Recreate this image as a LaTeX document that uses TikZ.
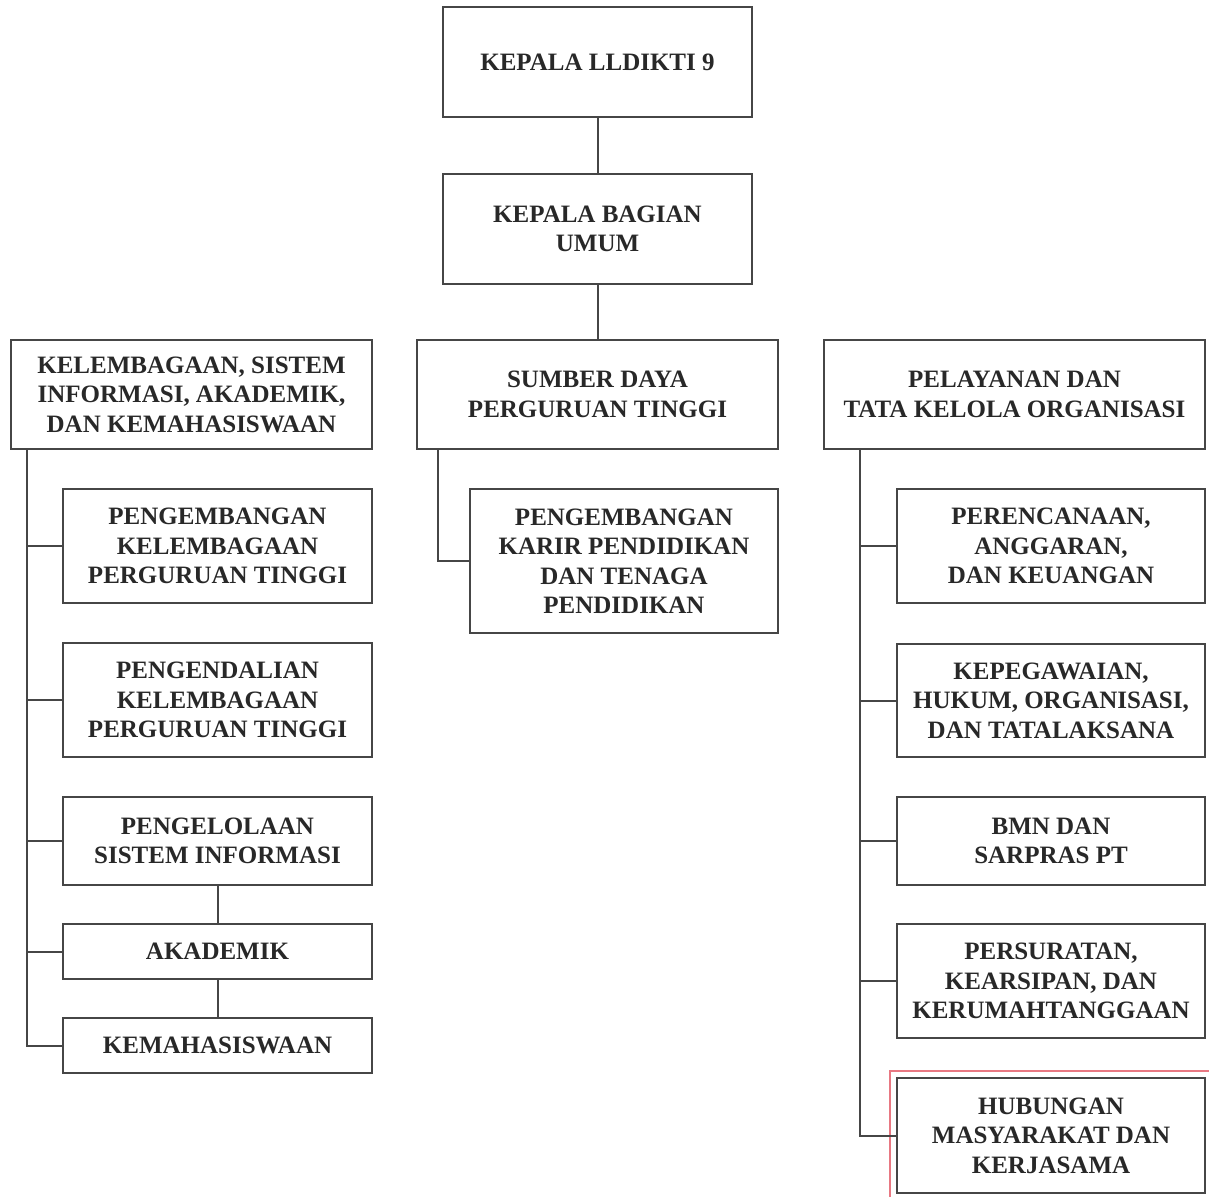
\documentclass[tikz,border=0pt]{standalone}
\usepackage{fontspec}
\setmainfont{Liberation Serif}
\definecolor{boxline}{RGB}{70,70,70}
\definecolor{txt}{RGB}{40,40,40}
\definecolor{selred}{RGB}{232,120,130}
\begin{document}
\begin{tikzpicture}[x=1pt,y=-1pt,
  box/.style={draw=boxline,line width=2pt,fill=white,inner sep=0pt,align=center,
    text=txt,font=\fontsize{25}{29.5}\selectfont\bfseries},
  conn/.style={draw=boxline,line width=2pt}]
\useasboundingbox[fill=white] (0,0) rectangle (1209,1196);
% red selection frame
\draw[selred,line width=1.5pt] (890,1071) rectangle (1220,1210);
% top
\node[box,minimum width=309pt,minimum height=110pt] (top) at (597.5,62) {KEPALA LLDIKTI 9};
\node[box,minimum width=309pt,minimum height=110pt] (kbu) at (597.5,229) {KEPALA BAGIAN\\UMUM};
% level 2
\node[box,minimum width=361pt,minimum height=109pt] (L) at (191.5,394.5) {KELEMBAGAAN, SISTEM\\INFORMASI, AKADEMIK,\\DAN KEMAHASISWAAN};
\node[box,minimum width=361pt,minimum height=109pt] (M) at (597.5,394.5) {SUMBER DAYA\\PERGURUAN TINGGI};
\node[box,minimum width=381pt,minimum height=109pt] (R) at (1014.5,394.5) {PELAYANAN DAN\\TATA KELOLA ORGANISASI};
% left children
\node[box,minimum width=309pt,minimum height=114pt] (L1) at (217.5,546) {PENGEMBANGAN\\KELEMBAGAAN\\PERGURUAN TINGGI};
\node[box,minimum width=309pt,minimum height=114pt] (L2) at (217.5,700) {PENGENDALIAN\\KELEMBAGAAN\\PERGURUAN TINGGI};
\node[box,minimum width=309pt,minimum height=88pt] (L3) at (217.5,841) {PENGELOLAAN\\SISTEM INFORMASI};
\node[box,minimum width=309pt,minimum height=55pt] (L4) at (217.5,951.5) {AKADEMIK};
\node[box,minimum width=309pt,minimum height=55pt] (L5) at (217.5,1045.5) {KEMAHASISWAAN};
% middle child
\node[box,minimum width=308pt,minimum height=144pt] (M1) at (624,561) {PENGEMBANGAN\\KARIR PENDIDIKAN\\DAN TENAGA\\PENDIDIKAN};
% right children
\node[box,minimum width=308pt,minimum height=114pt] (R1) at (1051,546) {PERENCANAAN,\\ANGGARAN,\\DAN KEUANGAN};
\node[box,minimum width=308pt,minimum height=113pt] (R2) at (1051,700.5) {KEPEGAWAIAN,\\HUKUM, ORGANISASI,\\DAN TATALAKSANA};
\node[box,minimum width=308pt,minimum height=88pt] (R3) at (1051,841) {BMN DAN\\SARPRAS PT};
\node[box,minimum width=308pt,minimum height=114pt] (R4) at (1051,981) {PERSURATAN,\\KEARSIPAN, DAN\\KERUMAHTANGGAAN};
\node[box,minimum width=308pt,minimum height=115pt] (R5) at (1051,1135.5) {HUBUNGAN\\MASYARAKAT DAN\\KERJASAMA};
% trunk coordinates
\coordinate (lt) at (27,449);
\coordinate (mt) at (438,449);
\coordinate (rt) at (860,449);
% connectors
\draw[conn] (top.south) -- (kbu.north);
\draw[conn] (kbu.south) -- (M.north);
\draw[conn] (lt) |- (L5.west);
\draw[conn] (lt |- L1.west) -- (L1.west);
\draw[conn] (lt |- L2.west) -- (L2.west);
\draw[conn] (lt |- L3.west) -- (L3.west);
\draw[conn] (lt |- L4.west) -- (L4.west);
\draw[conn] (L3.south) -- (L4.north);
\draw[conn] (L4.south) -- (L5.north);
\draw[conn] (mt) |- (M1.west);
\draw[conn] (rt) |- (R5.west);
\draw[conn] (rt |- R1.west) -- (R1.west);
\draw[conn] (rt |- R2.west) -- (R2.west);
\draw[conn] (rt |- R3.west) -- (R3.west);
\draw[conn] (rt |- R4.west) -- (R4.west);
\end{tikzpicture}
\end{document}
